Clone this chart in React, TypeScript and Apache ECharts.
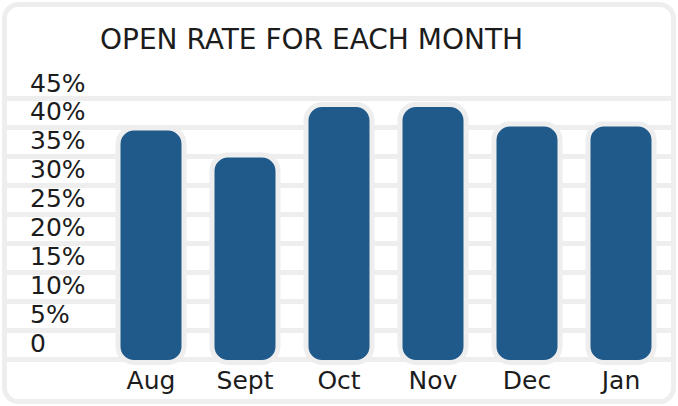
import React, { useEffect, useRef } from "react";
import * as echarts from "echarts";

const months = ["Aug", "Sept", "Oct", "Nov", "Dec", "Jan"];
const openRate = [41.6, 36.9, 45.7, 45.7, 42.3, 42.3];
const yTicks = [0, 5, 10, 15, 20, 25, 30, 35, 40, 45];
const titleText = "OPEN RATE FOR EACH MONTH";

const FONT = "DejaVu Sans";
const TEXT = "#1c1c1c";
const GREY = "#eeeeee";
const BLUE = "#1f5a8b";

export default function App() {
  const ref = useRef<HTMLDivElement>(null);
  useEffect(() => {
    document.body.style.margin = "0";
    const chart = echarts.init(ref.current!, null, { renderer: "svg" });
    chart.setOption({
      animation: false,
      backgroundColor: "#ffffff",
      title: {
        text: titleText,
        left: 100,
        top: 25,
        padding: 0,
        textStyle: { fontFamily: FONT, fontSize: 28, fontWeight: "normal", color: TEXT },
      },
      graphic: [
        {
          type: "rect",
          z: -10,
          silent: true,
          shape: { x: 4.5, y: 4.5, width: 669, height: 397, r: 14 },
          style: { fill: "#ffffff", stroke: GREY, lineWidth: 5 },
        },
      ],
      grid: [
        { left: 6, right: 5, top: 98.5, bottom: 47 },
        { left: 104, right: 10, top: 77.2, bottom: 41 },
      ],
      xAxis: [
        { gridIndex: 0, type: "value", show: false, min: 0, max: 1 },
        {
          gridIndex: 1,
          type: "category",
          data: months,
          axisLine: { show: false },
          axisTick: { show: false },
          splitLine: { show: false },
          axisLabel: { fontFamily: FONT, fontSize: 25, color: TEXT, margin: 3 },
        },
      ],
      yAxis: [
        {
          gridIndex: 0,
          type: "value",
          min: yTicks[0],
          max: yTicks[yTicks.length - 1],
          interval: 5,
          axisLine: { show: false },
          axisTick: { show: false },
          splitLine: { show: true, lineStyle: { color: GREY, width: 5 } },
          axisLabel: {
            inside: true,
            margin: 24,
            showMinLabel: true,
            showMaxLabel: true,
            hideOverlap: false,
            fontFamily: FONT,
            fontSize: 25,
            color: TEXT,
            verticalAlign: "bottom",
            lineHeight: 27,
            padding: [0, 0, 2, 0],
            formatter: (v: number) => (v === 0 ? "0" : v + "%"),
          },
        },
        {
          gridIndex: 1,
          type: "value",
          min: 0,
          max: 50,
          interval: 5,
          show: false,
          splitLine: { show: false },
        },
      ],
      series: [
        {
          type: "bar",
          xAxisIndex: 1,
          yAxisIndex: 1,
          data: openRate,
          barWidth: 71,
          itemStyle: {
            color: BLUE,
            borderColor: GREY,
            borderWidth: 5,
            borderRadius: 16,
          },
        },
      ],
    });
    return () => chart.dispose();
  }, []);
  return (
    <div
      ref={ref}
      style={{ position: "fixed", left: 0, top: 0, width: 678, height: 406 }}
    />
  );
}
